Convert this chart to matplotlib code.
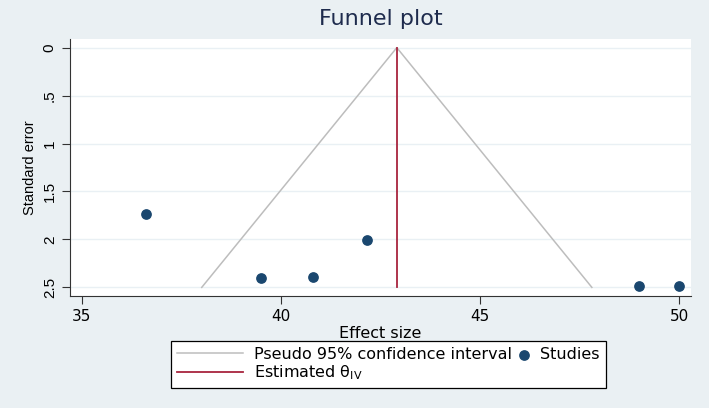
import matplotlib
matplotlib.use("Agg")
import matplotlib.pyplot as plt
from matplotlib.legend_handler import HandlerPathCollection
import numpy as np

plt.rcParams['font.family'] = ['DejaVu Sans']

# studies (effect size, standard error)
effect = [36.6, 39.5, 40.8, 42.15, 49.0, 50.0]
se = [1.73, 2.40, 2.39, 2.01, 2.49, 2.49]
theta_iv = 42.91
se_max = 2.5
yticks = [0, 0.5, 1, 1.5, 2, 2.5]
ytick_labels = ["0", ".5", "1", "1.5", "2", "2.5"]
xticks = [35, 40, 45, 50]

BG = "#eaf0f3"
NAVY = "#1a476f"
RED = "#a8243e"
GREY = "#bdbdbd"


# dot sits at the right end of its handle box, close to the label
class RightDot(HandlerPathCollection):
    def get_xdata(self, legend, xdescent, ydescent, width, height, fontsize):
        x = [-xdescent + width - 0.35 * fontsize]
        return x, x


fig = plt.figure(figsize=(7.09, 4.08), dpi=100, facecolor=BG)
ax = fig.add_axes([0.0987, 0.2745, 0.8759, 0.6299])
ax.set_facecolor("white")

# pseudo 95% CI funnel
se_line = np.array([se_max, 0, se_max])
x_line = np.array([theta_iv - 1.96 * se_max, theta_iv, theta_iv + 1.96 * se_max])
ci, = ax.plot(x_line, se_line, color=GREY, lw=1.1, zorder=2)
est, = ax.plot([theta_iv, theta_iv], [0, se_max], color=RED, lw=1.3, zorder=3)
pts = ax.scatter(effect, se, s=45, color=NAVY, zorder=4)

ax.set_xlim(34.7, 50.3)
ax.set_ylim(2.59, -0.09)
ax.set_yticks(yticks)
ax.set_yticklabels(ytick_labels, rotation=90, va="center",
                   family="Liberation Sans", fontsize=11)
ax.set_xticks(xticks)
ax.grid(axis="y", color="#e9f0f4", lw=1.0)
ax.set_axisbelow(True)
for s in ["top", "right"]:
    ax.spines[s].set_visible(False)
for s in ["left", "bottom"]:
    ax.spines[s].set_color("#333333")
ax.tick_params(axis="both", length=6, color="#333333", colors="black")
ax.tick_params(axis="x", labelsize=11)

ax.set_xlabel("Effect size", fontsize=11.5, labelpad=1)
ax.set_ylabel("Standard error", fontsize=10.5, family="Liberation Sans", labelpad=4)
ax.set_title("Funnel plot", fontsize=16, color="#1e2b4d", pad=10)

leg = fig.legend([ci, est, pts],
                 ["Pseudo 95% confidence interval", "Estimated θ$_{\\mathregular{IV}}$", "Studies"],
                 ncol=2, loc="center", bbox_to_anchor=(0.548, 0.107),
                 frameon=True, fancybox=False, edgecolor="black", framealpha=1,
                 fontsize=11.5, handlelength=4.1, columnspacing=-3.0,
                 labelspacing=0.1, borderpad=0.35, handletextpad=0.7,
                 handler_map={pts: RightDot()})
leg.get_frame().set_linewidth(0.9)

fig.savefig("out.png", dpi=100, facecolor=BG)
